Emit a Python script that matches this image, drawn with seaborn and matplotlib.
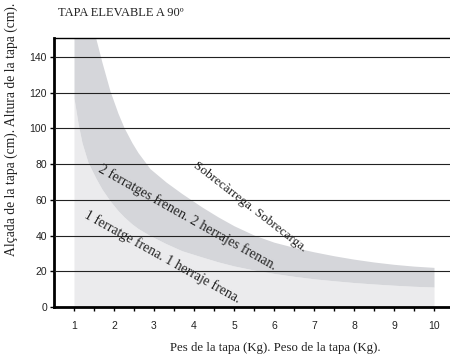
import numpy as np
import matplotlib
matplotlib.use("Agg")
import matplotlib.pyplot as plt
import seaborn as sns

# pes de la tapa (kg) i limits de les bandes (cm)
pes = [1.0, 1.1, 1.2, 1.35, 1.55, 1.7, 1.9, 2.1, 2.25, 2.45, 2.6, 2.9, 3.3,
       3.7, 4.2, 4.6, 5.0, 5.5, 6.0, 6.5, 7.0, 7.5, 8.0, 8.5, 9.0, 9.5, 10.0]
limit_1 = [117, 103, 92, 81, 72, 66, 59.5, 54, 50.5, 46.5, 44, 40, 35.5,
           31.5, 28, 25.3, 23, 20.7, 18.8, 17.2, 15.8, 14.7, 13.7, 12.9, 12.2, 11.6, 11.2]
limit_2 = [200, 188, 176, 162, 150, 137, 121, 108.5, 100.5, 92, 86.5, 77.5, 70,
           63.5, 56, 50.5, 45.5, 40.3, 36.3, 33.4, 30.9, 28.7, 26.8, 25.2, 23.9, 22.9, 22.2]
base = [0] * len(pes)

yticks = [0, 20, 40, 60, 80, 100, 120, 140]
xticks = [1, 2, 3, 4, 5, 6, 7, 8, 9, 10]

titol = "TAPA ELEVABLE A 90º"
etiqueta_x = "Pes de la tapa (Kg). Peso de la tapa (Kg)."
etiqueta_y = "Alçada de la tapa (cm). Altura de la tapa (cm)."
text_1 = "1 ferratge frena. 1 herraje frena."
text_2 = "2 ferratges frenen. 2 herrajes frenan."
text_3 = "Sobrecàrrega. Sobrecarga."

sns.set_theme(style="white")
plt.rcParams["font.family"] = ["Liberation Sans", "DejaVu Sans"]
serif = ["Liberation Serif", "DejaVu Serif"]

fig = plt.figure(figsize=(4.5, 3.56), dpi=100)
ax = fig.add_axes([0.12, 0.1376, 0.88, 0.7554])

ax.fill_between(pes, base, limit_1, color="#ebebed", linewidth=0, zorder=1)
ax.fill_between(pes, limit_1, limit_2, color="#d5d6da", linewidth=0, zorder=1)

ax.set_xlim(0.5, 10.4)
ax.set_ylim(0, 150.6)
ax.set_yticks(yticks)
ax.set_xticks(xticks)
ax.set_xticks(np.arange(1.5, 10.5, 1.0), minor=True)
ax.tick_params(axis="both", which="both", direction="out", length=3, width=1,
               color="black", labelsize=7.5, labelcolor="#222222")
ax.tick_params(axis="x", which="both", bottom=True, pad=7)
ax.tick_params(axis="y", left=True, pad=2)

ax.set_axisbelow(False)
ax.yaxis.grid(True, color="#222222", linewidth=0.8)
ax.xaxis.grid(False)

for s in ["left", "bottom"]:
    ax.spines[s].set_linewidth(2)
    ax.spines[s].set_color("black")
ax.spines["top"].set_linewidth(1)
ax.spines["top"].set_color("black")
ax.spines["right"].set_visible(False)

ax.set_xlabel(etiqueta_x, family=serif, fontsize=9.2, color="#222222")
ax.xaxis.set_label_coords(0.558, -0.13)
ax.set_ylabel(etiqueta_y, family=serif, fontsize=9.8, color="#222222")
ax.yaxis.set_label_coords(-0.092, 0.66)

fig.text(58 / 450, 1 - 13 / 356, titol, family=serif, fontsize=9,
         color="#222222", ha="left", va="center")

ax.text(3.2, 28.3, text_1, family=serif, fontsize=9.9, color="#222222",
        rotation=-29.1, rotation_mode="anchor", ha="center", va="center", zorder=3)
ax.text(3.83, 50.1, text_2, family=serif, fontsize=10, color="#222222",
        rotation=-29.3, rotation_mode="anchor", ha="center", va="center", zorder=3)
ax.text(5.4, 56, text_3, family=serif, fontsize=9.5, color="#222222",
        rotation=-37.7, rotation_mode="anchor", ha="center", va="center", zorder=3)

fig.savefig("out.png", dpi=100)
